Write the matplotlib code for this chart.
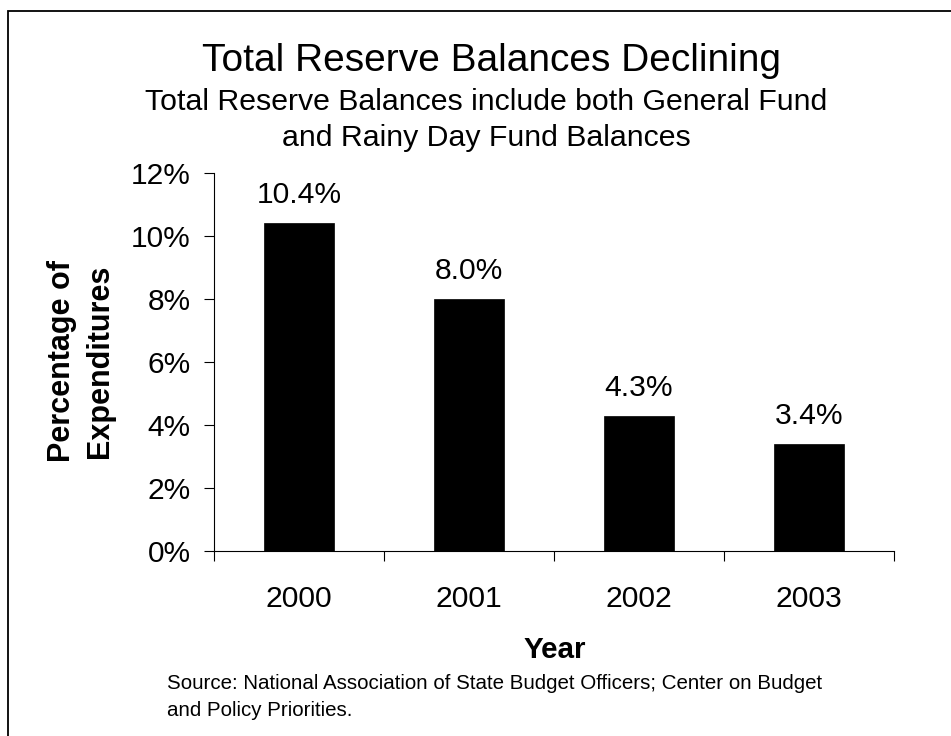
import matplotlib
matplotlib.use("Agg")
import matplotlib.pyplot as plt
from matplotlib.patches import Rectangle

years = ["2000", "2001", "2002", "2003"]
values = [10.4, 8.0, 4.3, 3.4]
yticks = [0, 2, 4, 6, 8, 10, 12]
ytick_labels = ["0%", "2%", "4%", "6%", "8%", "10%", "12%"]

plt.rcParams['font.family'] = ['Liberation Sans', 'DejaVu Sans']

W, H = 951, 736
fig = plt.figure(figsize=(W/100, H/100), dpi=100)
fig.patch.set_facecolor('white')

def fx(px):
    return px / W

def fy(py):
    return 1 - py / H

# border
fig.patches.append(Rectangle((fx(8), -0.05), 1.1, fy(11) + 0.05, transform=fig.transFigure,
                             fill=False, edgecolor='black', linewidth=1.3))

ax = fig.add_axes([fx(214), fy(551), (894 - 214) / W, (551 - 173) / H])
x = list(range(len(years)))
ax.bar(x, values, width=0.41, color='black', edgecolor='black', linewidth=0.5)
ax.set_xlim(-0.5, len(years) - 0.5)
ax.set_ylim(0, 12)
ax.set_yticks(yticks)
ax.set_yticklabels(ytick_labels, fontsize=21.5)
ax.set_xticks([i - 0.5 for i in range(len(years) + 1)], minor=False)
ax.set_xticklabels([])
ax.set_xticks(x, minor=True)
ax.set_xticklabels(years, minor=True, fontsize=21.7)
for lab in ax.get_xticklabels(minor=True):
    lab.set_va('baseline')
ax.tick_params(axis='x', which='minor', length=0, pad=40)
ax.tick_params(axis='x', which='major', length=7.2, direction='out', width=0.8)
ax.tick_params(axis='y', length=7.2, direction='out', width=0.8, pad=9.5)
for s in ['top', 'right']:
    ax.spines[s].set_visible(False)
for s in ['left', 'bottom']:
    ax.spines[s].set_linewidth(0.8)

for i, v in enumerate(values):
    ax.annotate(f"{v:.1f}%", (i, v), xytext=(0, 20), textcoords='offset pixels',
                ha='center', va='baseline', fontsize=21.6)

# axis titles
fig.text(fx(555), fy(658), "Year", ha='center', va='baseline', fontsize=21.3, fontweight='bold')
fig.text(fx(70), fy(361), "Percentage of", rotation=90, rotation_mode='anchor',
         ha='center', va='baseline', fontsize=22, fontweight='bold')
fig.text(fx(108), fy(361), "Expenditures", rotation=90, rotation_mode='anchor',
         ha='center', va='baseline', fontsize=22, fontweight='bold')

# titles
fig.text(fx(491), fy(71), "Total Reserve Balances Declining", ha='center', va='baseline', fontsize=28)
fig.text(fx(486), fy(110), "Total Reserve Balances include both General Fund",
         ha='center', va='baseline', fontsize=21.8)
fig.text(fx(486), fy(146), "and Rainy Day Fund Balances",
         ha='center', va='baseline', fontsize=21.8)

# source
fig.text(fx(167), fy(689), "Source: National Association of State Budget Officers; Center on Budget",
         ha='left', va='baseline', fontsize=14.8)
fig.text(fx(167), fy(716), "and Policy Priorities.", ha='left', va='baseline', fontsize=14.8)

fig.savefig("out.png", dpi=100)
